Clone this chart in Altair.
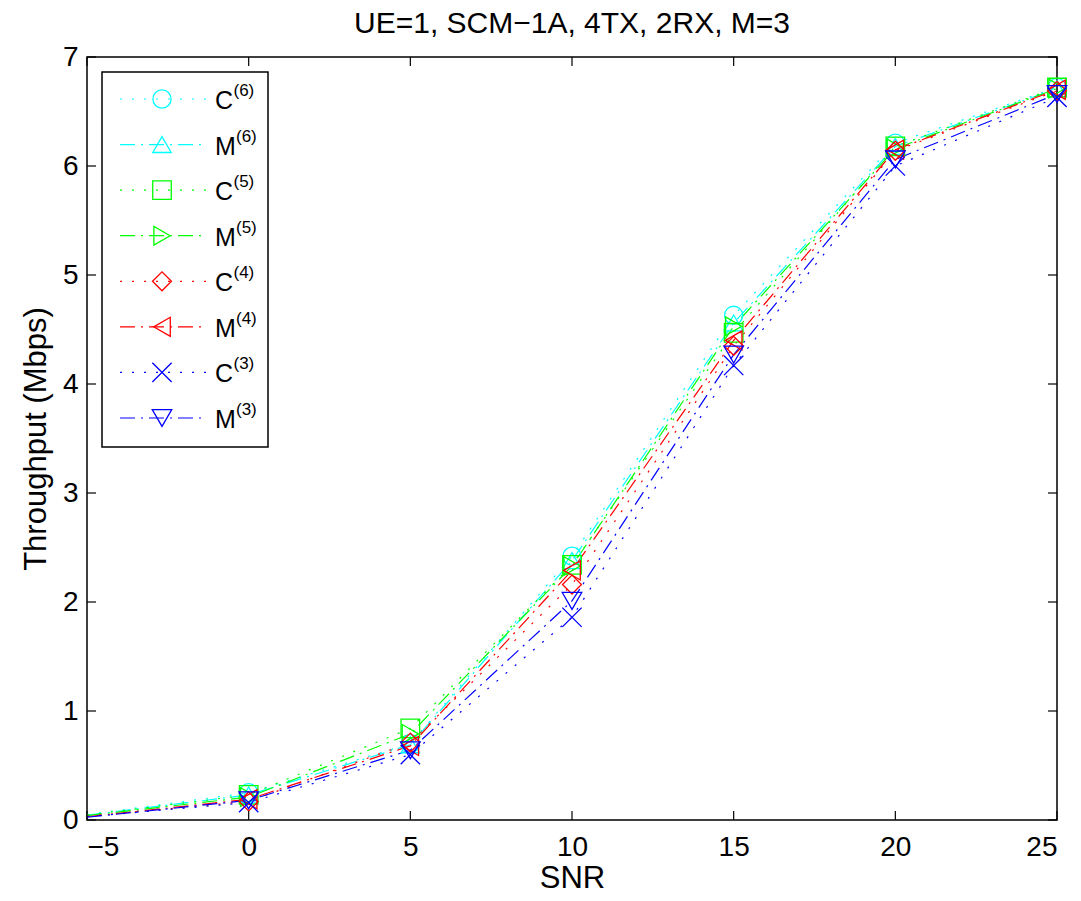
import altair as alt
import pandas as pd

# ---------------- data ----------------
snr = [-5, 0, 5, 10, 15, 20, 25]
series_names = ["C6", "M6", "C5", "M5", "C4", "M4", "C3", "M3"]
series_base = ["C", "M", "C", "M", "C", "M", "C", "M"]
series_sup = ["(6)", "(6)", "(5)", "(5)", "(4)", "(4)", "(3)", "(3)"]

C6 = [0.05, 0.25, 0.70, 2.42, 4.63, 6.21, 6.72]
M6 = [0.045, 0.23, 0.69, 2.38, 4.56, 6.18, 6.71]
C5 = [0.045, 0.23, 0.84, 2.34, 4.47, 6.18, 6.72]
M5 = [0.04, 0.21, 0.79, 2.33, 4.53, 6.16, 6.71]
C4 = [0.035, 0.17, 0.71, 2.16, 4.35, 6.14, 6.69]
M4 = [0.03, 0.19, 0.68, 2.29, 4.40, 6.15, 6.70]
C3 = [0.03, 0.16, 0.60, 1.86, 4.17, 6.00, 6.63]
M3 = [0.025, 0.18, 0.64, 2.01, 4.27, 6.06, 6.66]
series_values = [C6, M6, C5, M5, C4, M4, C3, M3]
marker_from_snr = 0  # the reference shows no markers at the left edge (SNR = -5)

x_ticks = [-5, 0, 5, 10, 15, 20, 25]
y_ticks = [0, 1, 2, 3, 4, 5, 6, 7]
title_text = "UE=1, SCM−1A, 4TX, 2RX, M=3"

# ---------------- styles ----------------
colors = ["#00FFFF", "#00FFFF", "#00FF00", "#00FF00", "#FF0000", "#FF0000", "#0000FF", "#0000FF"]
shapes = ["circle", "triangle-up", "square", "triangle-right", "diamond",
          "triangle-left", "M-1,-1L1,1M-1,1L1,-1", "triangle-down"]
sizes = [330, 380, 210, 380, 340, 380, 130, 380]
dot = [2, 10]
dashdot = [15, 6, 2, 6]
dashes = [dot, dashdot, dot, dashdot, dot, dashdot, dot, dashdot]
FONT = "Liberation Sans"
W, H = 970, 763

rows = []
for name, vals in zip(series_names, series_values):
    for x, y in zip(snr, vals):
        rows.append({"series": name, "snr": x, "tp": y})
df = pd.DataFrame(rows)

color = alt.Color("series:N", scale=alt.Scale(domain=series_names, range=colors), legend=None)
sdash = alt.StrokeDash("series:N", scale=alt.Scale(domain=series_names, range=dashes), legend=None)
shape = alt.Shape("series:N", scale=alt.Scale(domain=series_names, range=shapes), legend=None)
size = alt.Size("series:N", scale=alt.Scale(domain=series_names, range=sizes), legend=None)

X = alt.X("snr:Q", scale=alt.Scale(domain=[-5, 25], nice=False, zero=False),
          axis=alt.Axis(values=x_ticks, title="SNR", format="d", labelPadding=13, titlePadding=2))
Y = alt.Y("tp:Q", scale=alt.Scale(domain=[0, 7], nice=False),
          axis=alt.Axis(values=y_ticks, title="Throughput (Mbps)", format="d",
                        labelPadding=9, titlePadding=10))

lines = alt.Chart(df).mark_line(strokeWidth=1.2).encode(
    x=X, y=Y, color=color, strokeDash=sdash, detail="series:N", order="snr:Q")
points = alt.Chart(df).transform_filter(
    alt.datum.snr >= marker_from_snr
).mark_point(filled=False, strokeWidth=1.3, opacity=1).encode(
    x="snr:Q", y="tp:Q", color=color, shape=shape, size=size)

xt = pd.DataFrame({"snr": x_ticks})
yt = pd.DataFrame({"tp": y_ticks})
tick_style = dict(color="black", strokeWidth=1.2)
t_bottom = alt.Chart(xt).mark_rule(**tick_style).encode(x="snr:Q", y=alt.value(H), y2=alt.value(H - 9))
t_top = alt.Chart(xt).mark_rule(**tick_style).encode(x="snr:Q", y=alt.value(0), y2=alt.value(9))
t_left = alt.Chart(yt).mark_rule(**tick_style).encode(y="tp:Q", x=alt.value(0), x2=alt.value(9))
t_right = alt.Chart(yt).mark_rule(**tick_style).encode(y="tp:Q", x=alt.value(W), x2=alt.value(W - 9))

title = alt.Chart(alt.Data(values=[{"t": title_text}])).mark_text(
    font=FONT, fontSize=30, color="black", align="center", baseline="alphabetic"
).encode(x=alt.value(W / 2), y=alt.value(-24), text="t:N")

main = alt.layer(lines, points, t_bottom, t_top, t_left, t_right, title)

# ---------------- legend ----------------
leg_df = pd.DataFrame({"series": series_names, "base": series_base, "sup": series_sup,
                       "idx": list(range(len(series_names)))})
LY = alt.Y("idx:Q", scale=alt.Scale(domain=[0, 7], range=[42, 361]), axis=None)

box = alt.Chart(alt.Data(values=[{}])).mark_rect(fill="white", stroke="black", strokeWidth=1.5).encode(
    x=alt.value(15), x2=alt.value(181), y=alt.value(15), y2=alt.value(390))
leg_lines = alt.Chart(leg_df).mark_rule(strokeWidth=1.2).encode(
    x=alt.value(33), x2=alt.value(119), y=LY, color=color, strokeDash=sdash)
leg_pts = alt.Chart(leg_df).mark_point(filled=False, strokeWidth=1.3, opacity=1).encode(
    x=alt.value(75), y=LY, color=color, shape=shape, size=size)
leg_text = alt.Chart(leg_df).mark_text(align="left", baseline="middle", fontSize=25, dy=2,
                                        font=FONT, color="black").encode(
    x=alt.value(128), y=LY, text="base:N")
leg_sup_c = alt.Chart(leg_df).transform_filter("datum.base == 'C'").mark_text(
    align="left", baseline="middle", fontSize=17, dy=-8, font=FONT, color="black"
).encode(x=alt.value(128 + 18.5), y=LY, text="sup:N")
leg_sup_m = alt.Chart(leg_df).transform_filter("datum.base == 'M'").mark_text(
    align="left", baseline="middle", fontSize=17, dy=-8, font=FONT, color="black"
).encode(x=alt.value(128 + 21), y=LY, text="sup:N")
legend = alt.layer(box, leg_lines, leg_pts, leg_text, leg_sup_c, leg_sup_m)

chart = alt.layer(main, legend).resolve_scale(y="independent").properties(
    width=W, height=H,
    background="white",
    padding={"left": 87, "top": 57, "right": 24, "bottom": 81},
    autosize=alt.AutoSizeParams(type="none"),
).configure_view(stroke="black", strokeWidth=1.5).configure_axis(
    labelFont=FONT, titleFont=FONT, labelFontSize=28, titleFontSize=31,
    labelColor="black", titleColor="black", titleFontWeight="normal",
    domain=False, ticks=False, grid=False,
)

chart.save("out.html", embed_options={"renderer": "svg", "actions": False})
